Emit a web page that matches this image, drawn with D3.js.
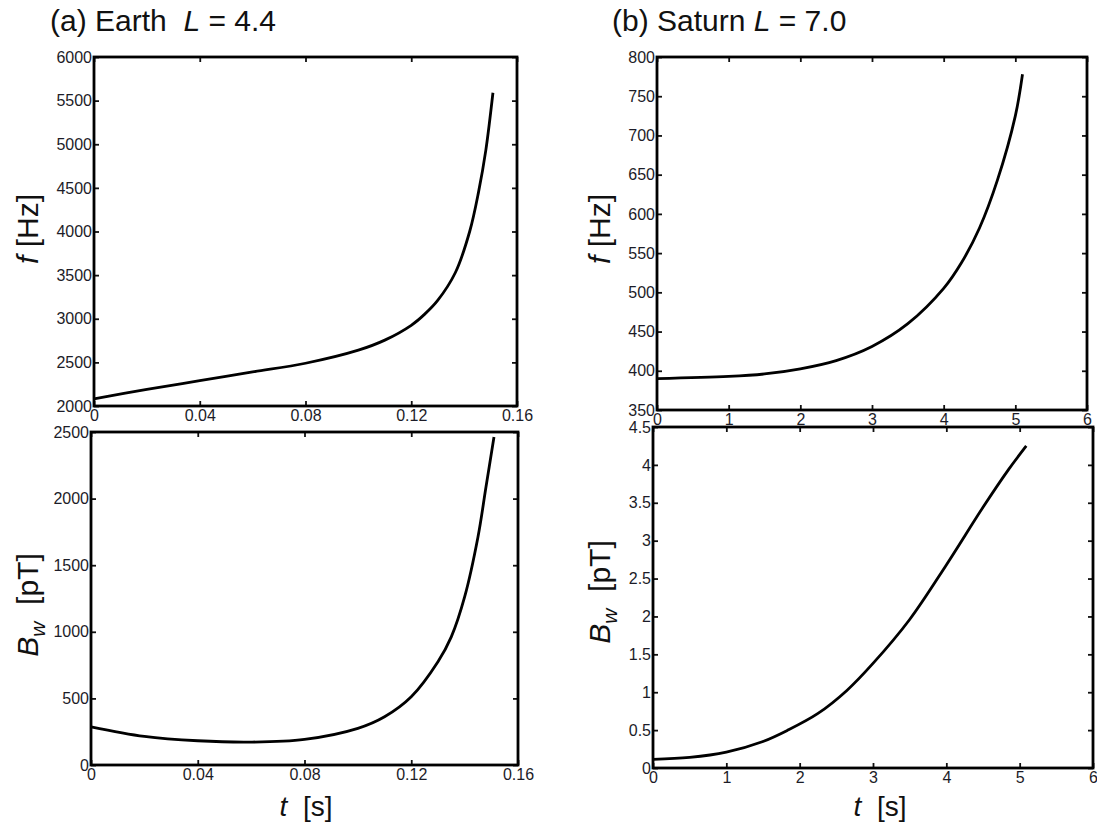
<!DOCTYPE html>
<html><head><meta charset="utf-8">
<script src="https://cdn.jsdelivr.net/npm/d3@7"></script>
<style>
body{margin:0;background:#fff;}
svg{display:block;font-family:"Liberation Sans",Arial,sans-serif;}
</style></head>
<body><svg id="c" width="1097" height="834"></svg>
<script>
// ---- data ----
const earthT_f = [0,0.02,0.04,0.06,0.08,0.10,0.11,0.12,0.125,0.13,0.1367,0.1421,0.1455,0.1482,0.1509];
const earthF   = [2082,2190,2290,2390,2490,2640,2755,2925,3050,3210,3530,4000,4460,4930,5590];
const earthT_b = [0,0.02,0.04,0.06,0.08,0.10,0.11,0.12,0.13,0.135,0.14,0.145,0.148,0.151];
const earthBw  = [287,215,182,172,192,275,362,512,775,962,1262,1712,2087,2462];
const saturnT_f = [0,1,1.5,2,2.5,3,3.5,4,4.25,4.5,4.75,5,5.1];
const saturnF   = [390,392.8,396,402.5,413,431,460,505,538,582,643,725,778];
const saturnT_b = [0,0.5,1,1.5,1.84,2.25,2.64,3.0,3.5,4.0,4.5,4.85,5.09];
const saturnBw  = [0.114,0.14,0.21,0.35,0.5,0.72,1.02,1.38,1.96,2.68,3.44,3.94,4.25];

const earthXTicks = [0,0.04,0.08,0.12,0.16];
const earthFTicks = [2000,2500,3000,3500,4000,4500,5000,5500,6000];
const earthBTicks = [0,500,1000,1500,2000,2500];
const saturnXTicks = [0,1,2,3,4,5,6];
const saturnFTicks = [350,400,450,500,550,600,650,700,750,800];
const saturnBTicks = [0,0.5,1,1.5,2,2.5,3,3.5,4,4.5];

// ---- layout ----
const panels = [
  {x0:94,x1:517,y0:57,y1:406,xd:[0,0.16],yd:[2000,6000],xt:earthXTicks,yt:earthFTicks,xs:earthT_f,ys:earthF,ylab:"f",lx:38,ly:229},
  {x0:91,x1:518,y0:432,y1:765,xd:[0,0.16],yd:[0,2500],xt:earthXTicks,yt:earthBTicks,xs:earthT_b,ys:earthBw,ylab:"B",lx:38,ly:605,tlab:true,tx:306},
  {x0:657,x1:1087,y0:57,y1:410,xd:[0,6],yd:[350,800],xt:saturnXTicks,yt:saturnFTicks,xs:saturnT_f,ys:saturnF,ylab:"f",lx:610,ly:229},
  {x0:653,x1:1093,y0:427,y1:768,xd:[0,6],yd:[0,4.5],xt:saturnXTicks,yt:saturnBTicks,xs:saturnT_b,ys:saturnBw,ylab:"B",lx:610,ly:592,tlab:true,tx:880}
];

const svg = d3.select("#c");
const fmt = d => String(d);

panels.forEach(p => {
  const x = d3.scaleLinear().domain(p.xd).range([p.x0,p.x1]);
  const y = d3.scaleLinear().domain(p.yd).range([p.y1,p.y0]);
  const g = svg.append("g");
  const tl = 5;
  const style = sel => {
    sel.select(".domain").remove();
    sel.selectAll(".tick line").attr("stroke","#111").attr("stroke-width",1.8);
    sel.selectAll(".tick text").attr("fill","#1c1c28").style("font-size","16px");
  };
  g.append("g").attr("transform",`translate(0,${p.y1})`)
    .call(d3.axisBottom(x).tickValues(p.xt).tickFormat(fmt).tickSize(-tl).tickPadding(4)).call(style);
  g.append("g").attr("transform",`translate(0,${p.y0})`)
    .call(d3.axisTop(x).tickValues(p.xt).tickFormat("").tickSize(-tl)).call(style);
  g.append("g").attr("transform",`translate(${p.x0},0)`)
    .call(d3.axisLeft(y).tickValues(p.yt).tickFormat(fmt).tickSize(-tl).tickPadding(2)).call(style);
  g.append("g").attr("transform",`translate(${p.x1},0)`)
    .call(d3.axisRight(y).tickValues(p.yt).tickFormat("").tickSize(-tl)).call(style);
  g.append("rect").attr("x",p.x0).attr("y",p.y0).attr("width",p.x1-p.x0).attr("height",p.y1-p.y0)
    .attr("fill","none").attr("stroke","#000").attr("stroke-width",2.8);
  const line = d3.line().x((d,i)=>x(p.xs[i])).y(d=>y(d)).curve(d3.curveCatmullRom.alpha(0.5));
  g.append("path").attr("d",line(p.ys)).attr("fill","none").attr("stroke","#000").attr("stroke-width",2.8);

  // y label
  const yl = g.append("text").attr("transform",`translate(${p.lx},${p.ly}) rotate(-90)`)
    .attr("text-anchor","middle").attr("xml:space","preserve").style("font-size","30px").attr("fill","#111");
  if (p.ylab==="f") {
    yl.append("tspan").style("font-style","italic").text("f");
    yl.append("tspan").text(" [Hz]");
  } else {
    yl.append("tspan").style("font-style","italic").text("B");
    yl.append("tspan").style("font-style","italic").style("font-size","21px").attr("dy",7).text("w");
    yl.append("tspan").attr("dy",-7).text("  [pT]");
  }
  if (p.tlab) {
    const tx = g.append("text").attr("x",p.tx).attr("y",816)
      .attr("text-anchor","middle").attr("xml:space","preserve").style("font-size","28px").attr("fill","#111");
    tx.append("tspan").style("font-style","italic").text("t");
    tx.append("tspan").text("  [s]");
  }
});

// titles
const t1 = svg.append("text").attr("x",50).attr("y",31).attr("xml:space","preserve").style("font-size","30px").attr("fill","#111");
t1.append("tspan").text("(a) Earth  ");
t1.append("tspan").style("font-style","italic").text("L");
t1.append("tspan").text(" = 4.4");
const t2 = svg.append("text").attr("x",612).attr("y",31).attr("xml:space","preserve").style("font-size","30px").attr("fill","#111");
t2.append("tspan").text("(b) Saturn ");
t2.append("tspan").style("font-style","italic").text("L");
t2.append("tspan").text(" = 7.0");
</script></body></html>
